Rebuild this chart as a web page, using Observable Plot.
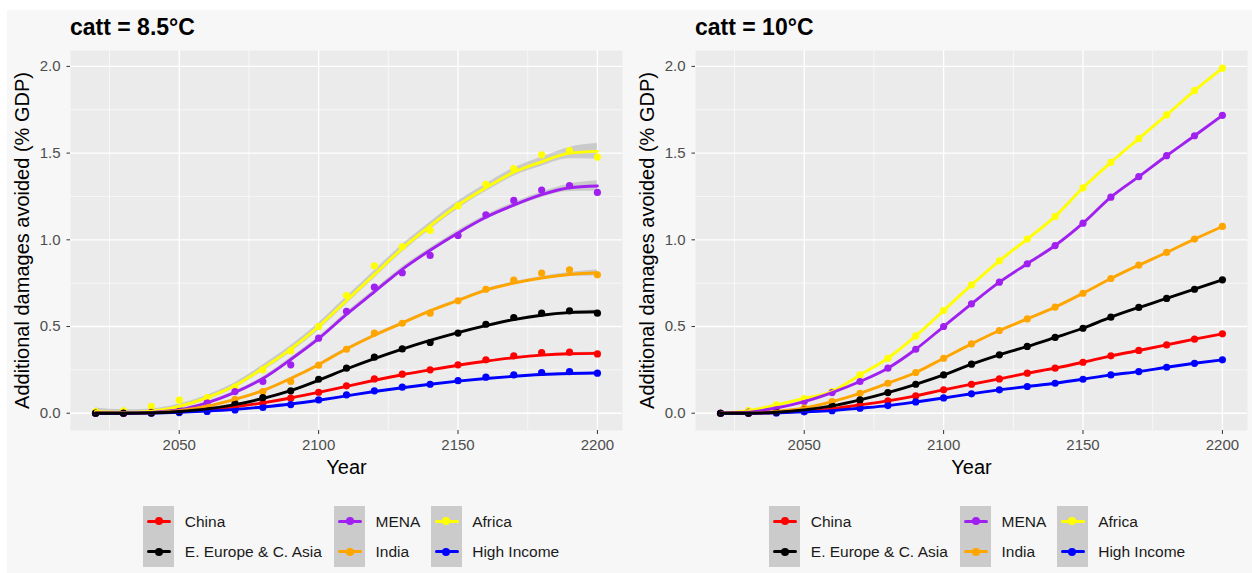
<!DOCTYPE html>
<html>
<head>
<meta charset="utf-8">
<script src="https://cdn.jsdelivr.net/npm/d3@7"></script>
<script src="https://cdn.jsdelivr.net/npm/@observablehq/plot@0.6"></script>
<style>
  html, body { margin: 0; padding: 0; background: #ffffff; }
  #root { position: relative; width: 1252px; height: 573px; overflow: hidden; font-family: "Liberation Sans", Arial, sans-serif; }
  #bg { position: absolute; left: 7px; top: 10px; right: 0; bottom: 0; background: #f7f7f7; }
  .title { position: absolute; top: 14px; font-size: 23px; font-weight: bold; color: #000; line-height: 26px; white-space: nowrap; }
  .panel { position: absolute; top: 40px; }
  .key { position: absolute; width: 31px; height: 30.5px; background: #cbcbcb; }
  .key .ln { position: absolute; left: 4px; right: 3px; top: 13.5px; height: 3.4px; border-radius: 2px; }
  .key .dt { position: absolute; left: 11.5px; top: 11px; width: 8px; height: 8px; border-radius: 50%; }
  .lab { position: absolute; font-size: 15.5px; color: #1a1a1a; white-space: nowrap; line-height: 18px; }
</style>
</head>
<body>
<div id="root">
  <div id="bg"></div>
</div>
<script>
// ---------- data ----------
const years = [2020,2030,2040,2050,2060,2070,2080,2090,2100,2110,2120,2130,2140,2150,2160,2170,2180,2190,2200];
const regions = ["China", "E. Europe & C. Asia", "MENA", "India", "Africa", "High Income"];
const regionColors = ["#ff0000", "#000000", "#a020f0", "#ffa500", "#ffff00", "#0000ff"];
const panelTitles = ["catt = 8.5°C", "catt = 10°C"];
const xTicks = [2050, 2100, 2150, 2200];
const yTicks = [0, 0.5, 1.0, 1.5, 2.0];
const yLabel = "Additional damages avoided (% GDP)";
const xLabel = "Year";

// catt = 8.5°C : observed points
const pts85China  = [0,0,0.003,0.008,0.02,0.038,0.058,0.087,0.121,0.158,0.198,0.225,0.25,0.279,0.308,0.331,0.35,0.352,0.342];
const pts85EECA   = [0,0,0.002,0.01,0.025,0.055,0.09,0.129,0.196,0.26,0.323,0.371,0.408,0.462,0.513,0.552,0.577,0.59,0.577];
const pts85MENA   = [0,0,0.005,0.02,0.06,0.125,0.183,0.279,0.433,0.587,0.727,0.81,0.91,1.025,1.144,1.227,1.287,1.313,1.273];
const pts85India  = [0,0,0.003,0.015,0.04,0.08,0.125,0.183,0.277,0.369,0.462,0.519,0.577,0.648,0.715,0.767,0.808,0.827,0.798];
const pts85Africa = [0.01,0.013,0.04,0.075,0.09,0.15,0.25,0.36,0.5,0.679,0.85,0.96,1.054,1.196,1.32,1.41,1.49,1.515,1.477];
const pts85High   = [0,0,0,0.004,0.01,0.019,0.033,0.05,0.077,0.106,0.129,0.15,0.167,0.188,0.208,0.221,0.235,0.24,0.231];

// catt = 8.5°C : smoothed fit
const fit85China  = [0,0,0.002,0.008,0.02,0.037,0.06,0.088,0.12,0.155,0.19,0.222,0.25,0.277,0.3,0.32,0.335,0.343,0.345];
const fit85EECA   = [0,0,0.002,0.01,0.025,0.05,0.085,0.13,0.19,0.255,0.315,0.37,0.42,0.465,0.505,0.54,0.565,0.58,0.585];
const fit85MENA   = [0,0,0.005,0.02,0.06,0.12,0.2,0.31,0.43,0.57,0.7,0.83,0.94,1.04,1.13,1.2,1.26,1.3,1.31];
const fit85India  = [0,0,0.003,0.015,0.04,0.08,0.13,0.2,0.28,0.37,0.45,0.52,0.59,0.65,0.71,0.75,0.78,0.8,0.81];
const fit85Africa = [0.01,0.005,0.012,0.04,0.09,0.16,0.26,0.37,0.5,0.65,0.8,0.95,1.08,1.2,1.3,1.39,1.45,1.5,1.51];
const fit85High   = [0,0,0.001,0.005,0.012,0.022,0.036,0.053,0.075,0.1,0.125,0.147,0.167,0.185,0.2,0.213,0.223,0.229,0.232];

// catt = 8.5°C : standard error of the fit
const se85China  = [0.004,0.003,0.003,0.003,0.003,0.003,0.003,0.003,0.003,0.003,0.003,0.003,0.003,0.003,0.003,0.003,0.004,0.005,0.008];
const se85EECA   = [0.006,0.005,0.004,0.004,0.004,0.004,0.005,0.005,0.005,0.005,0.005,0.005,0.005,0.005,0.005,0.005,0.006,0.008,0.012];
const se85MENA   = [0.01,0.008,0.007,0.007,0.008,0.009,0.01,0.011,0.012,0.013,0.013,0.013,0.013,0.013,0.013,0.014,0.016,0.021,0.03];
const se85India  = [0.006,0.005,0.004,0.004,0.005,0.005,0.006,0.006,0.007,0.007,0.007,0.007,0.007,0.007,0.007,0.008,0.009,0.012,0.018];
const se85Africa = [0.02,0.015,0.013,0.013,0.014,0.016,0.018,0.02,0.021,0.022,0.022,0.022,0.022,0.022,0.022,0.023,0.026,0.033,0.045];
const se85High   = [0.003,0.002,0.002,0.002,0.002,0.002,0.002,0.002,0.002,0.002,0.002,0.002,0.002,0.002,0.002,0.002,0.003,0.004,0.006];

// catt = 10°C : observed points (fit passes through them)
const pts10China  = [0,0,0.004,0.012,0.025,0.048,0.071,0.1,0.135,0.167,0.198,0.231,0.26,0.294,0.331,0.362,0.394,0.427,0.458];
const pts10EECA   = [0,0,0.006,0.019,0.042,0.077,0.119,0.167,0.221,0.283,0.337,0.385,0.437,0.49,0.554,0.61,0.662,0.715,0.769];
const pts10MENA   = [0,0.006,0.03,0.067,0.119,0.183,0.26,0.369,0.5,0.631,0.756,0.862,0.967,1.096,1.246,1.364,1.485,1.6,1.718];
const pts10India  = [0,0,0.01,0.03,0.067,0.115,0.173,0.235,0.317,0.4,0.477,0.544,0.612,0.692,0.777,0.854,0.927,1.004,1.077];
const pts10Africa = [0,0.015,0.048,0.085,0.125,0.221,0.317,0.446,0.592,0.74,0.879,1.004,1.135,1.3,1.447,1.584,1.72,1.86,1.99];
const pts10High   = [0,0,0.002,0.008,0.015,0.029,0.044,0.065,0.088,0.112,0.135,0.154,0.173,0.196,0.221,0.24,0.265,0.288,0.308];

// ---------- build tables ----------
function table(seriesList, extra) {
  const rows = [];
  seriesList.forEach((vals, i) => {
    vals.forEach((v, j) => {
      const r = {region: regions[i], year: years[j], value: v};
      if (extra) { r.lo = v - extra[i][j]; r.hi = v + extra[i][j]; }
      rows.push(r);
    });
  });
  return rows;
}
const lineOrder = ["Africa", "MENA", "India", "China", "High Income", "E. Europe & C. Asia"];
function ordered(rows) {
  return lineOrder.flatMap(g => rows.filter(r => r.region === g));
}

const left = {
  points: ordered(table([pts85China, pts85EECA, pts85MENA, pts85India, pts85Africa, pts85High])),
  fit: ordered(table([fit85China, fit85EECA, fit85MENA, fit85India, fit85Africa, fit85High],
                     [se85China, se85EECA, se85MENA, se85India, se85Africa, se85High]))
};
const rightRows = ordered(table([pts10China, pts10EECA, pts10MENA, pts10India, pts10Africa, pts10High]));
const right = { points: rightRows, fit: rightRows };

const FONT = '"Liberation Sans", Arial, sans-serif';

function panel(data, mLeft, mRight, showBand) {
  return Plot.plot({
    width: 626,
    height: 440,
    marginTop: 10,
    marginBottom: 50,
    marginLeft: mLeft,
    marginRight: mRight,
    style: { background: "transparent", fontFamily: FONT, fontSize: "15px", color: "#4d4d4d", overflow: "visible" },
    x: { domain: [2011, 2209] },
    y: { domain: [-0.0996, 2.0917] },
    color: { domain: regions, range: regionColors },
    marks: [
      Plot.frame({ fill: "#ebebeb", stroke: null }),
      Plot.gridX([2025, 2075, 2125, 2175], { stroke: "#ffffff", strokeOpacity: 1, strokeWidth: 0.6 }),
      Plot.gridY([0.25, 0.75, 1.25, 1.75], { stroke: "#ffffff", strokeOpacity: 1, strokeWidth: 0.6 }),
      Plot.gridX(xTicks, { stroke: "#ffffff", strokeOpacity: 1, strokeWidth: 1.3 }),
      Plot.gridY(yTicks, { stroke: "#ffffff", strokeOpacity: 1, strokeWidth: 1.3 }),
      showBand ? Plot.areaY(data.fit, { x: "year", y1: "lo", y2: "hi", z: "region", fill: "#999999", fillOpacity: 0.4, curve: "monotone-x" }) : null,
      Plot.dot(data.points, { x: "year", y: "value", fill: "region", r: 3.6 }),
      Plot.line(data.fit, { x: "year", y: "value", z: "region", stroke: "region", strokeWidth: 2.9, curve: "monotone-x" }),
      Plot.axisX(xTicks, { tickSize: 4, tickPadding: 5, tickFormat: d => String(d), label: null, fontSize: 15, stroke: "#333333", fill: "#4d4d4d" }),
      Plot.axisY(yTicks, { tickSize: 3.5, tickPadding: 6.5, tickFormat: d3.format(".1f"), label: null, fontSize: 15, stroke: "#333333", fill: "#4d4d4d" }),
      Plot.text([yLabel], { text: d => d, frameAnchor: "left", dx: -48, rotate: -90, textAnchor: "middle", lineAnchor: "middle", fontSize: 20, fill: "#000000" }),
      Plot.text([xLabel], { text: d => d, frameAnchor: "bottom", dy: 37, textAnchor: "middle", lineAnchor: "middle", fontSize: 20, fill: "#000000" })
    ]
  });
}

const root = document.getElementById("root");
const panels = [
  { data: left, ml: 70, mr: 4, offset: 0, band: true },
  { data: right, ml: 69, mr: 5, offset: 626, band: false }
];
panels.forEach((p, i) => {
  const wrap = document.createElement("div");
  wrap.className = "panel";
  wrap.style.left = p.offset + "px";
  wrap.appendChild(panel(p.data, p.ml, p.mr, p.band));
  root.appendChild(wrap);

  const t = document.createElement("div");
  t.className = "title";
  t.style.left = (p.offset + p.ml) + "px";
  t.textContent = panelTitles[i];
  root.appendChild(t);

  // legend: 3 columns x 2 rows, filled by column
  const colKeyX = [143.3, 334, 430.7];
  const rowTop = [506, 536.5];
  regions.forEach((g, k) => {
    const c = Math.floor(k / 2), r = k % 2;
    const key = document.createElement("div");
    key.className = "key";
    key.style.left = (p.offset + colKeyX[c]) + "px";
    key.style.top = rowTop[r] + "px";
    const ln = document.createElement("div");
    ln.className = "ln";
    ln.style.background = regionColors[k];
    const dt = document.createElement("div");
    dt.className = "dt";
    dt.style.background = regionColors[k];
    key.appendChild(ln);
    key.appendChild(dt);
    root.appendChild(key);
    const lab = document.createElement("div");
    lab.className = "lab";
    lab.style.left = (p.offset + colKeyX[c] + 41.5) + "px";
    lab.style.top = (rowTop[r] + 6.5) + "px";
    lab.textContent = g;
    root.appendChild(lab);
  });
});
</script>
</body>
</html>
